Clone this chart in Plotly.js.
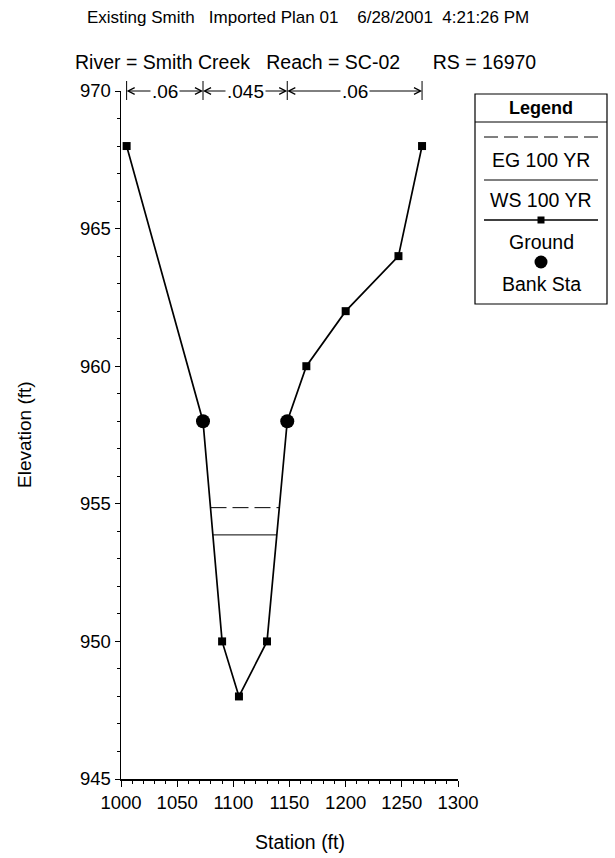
<!DOCTYPE html>
<html>
<head>
<meta charset="utf-8">
<script src="https://cdn.plot.ly/plotly-3.0.1.min.js"></script>
<style>html,body{margin:0;padding:0;background:#fff;}#chart{width:615px;height:858px;}</style>
</head>
<body>
<div id="chart"></div>
<script>
// ---- data ----
const station = [1005, 1073, 1090, 1105, 1130, 1148, 1165, 1200, 1247, 1268];
const elevation = [968, 958, 950, 948, 950, 958, 960, 962, 964, 968];
const bankStations = [1073, 1148];
const egElev = 954.86;   // EG 100 YR
const wsElev = 953.87;   // WS 100 YR
const nValues = ['.06', '.045', '.06'];
const yTicks = [945, 950, 955, 960, 965, 970];
const xTicks = [1000, 1050, 1100, 1150, 1200, 1250, 1300];
const titleLine1 = 'Existing Smith   Imported Plan 01    6/28/2001  4:21:26 PM';
const titleLine2 = 'River = Smith Creek   Reach = SC-02      RS = 16970';
const legendLabels = ['EG 100 YR', 'WS 100 YR', 'Ground', 'Bank Sta'];

// water-surface extent: where a level crosses the ground profile
function extent(level) {
  let xs = [];
  for (let i = 0; i < station.length - 1; i++) {
    const y0 = elevation[i], y1 = elevation[i + 1];
    if ((y0 - level) * (y1 - level) <= 0 && y0 !== y1) {
      xs.push(station[i] + (level - y0) / (y1 - y0) * (station[i + 1] - station[i]));
    }
  }
  return [Math.min(...xs), Math.max(...xs)];
}
const eg = extent(egElev), ws = extent(wsElev);
const bankElev = bankStations.map(s => elevation[station.indexOf(s)]);

// ---- layout geometry (pixels) ----
const W = 615, H = 858, L = 121, R = 458, T = 91, B = 779;
const px = p => (p - L) / (R - L);
const py = p => (B - p) / (B - T);
const FONT = 'Liberation Sans, Arial, sans-serif';

const traces = [
  {x: [eg[0], eg[1]], y: [egElev, egElev], mode: 'lines', line: {color: '#000', width: 1, dash: '16px,6px'}, hoverinfo: 'skip'},
  {x: [ws[0], ws[1]], y: [wsElev, wsElev], mode: 'lines', line: {color: '#000', width: 1}, hoverinfo: 'skip'},
  {x: station, y: elevation, mode: 'lines+markers', line: {color: '#000', width: 1.7},
   marker: {symbol: 'square', size: 8, color: '#000'}},
  {x: bankStations, y: bankElev, mode: 'markers', marker: {symbol: 'circle', size: 14, color: '#000'}}
];

const shapes = [];
const annotations = [];

// titles
annotations.push({xref: 'paper', yref: 'paper', x: px(308), y: py(18), text: titleLine1, showarrow: false,
  font: {family: FONT, size: 17, color: '#000'}, xanchor: 'center', yanchor: 'middle'});
annotations.push({xref: 'paper', yref: 'paper', x: px(305), y: py(62), text: titleLine2, showarrow: false,
  font: {family: FONT, size: 19.5, color: '#000'}, xanchor: 'center', yanchor: 'middle'});
annotations.push({xref: 'paper', yref: 'paper', x: px(24), y: py(435), text: 'Elevation (ft)', showarrow: false,
  textangle: -90, font: {family: FONT, size: 19, color: '#000'}, xanchor: 'center', yanchor: 'middle'});
annotations.push({xref: 'paper', yref: 'paper', x: px(300), y: py(842), text: 'Station (ft)', showarrow: false,
  font: {family: FONT, size: 19.5, color: '#000'}, xanchor: 'center', yanchor: 'middle'});

// n-value header
const bounds = [station[0], bankStations[0], bankStations[1], station[station.length - 1]];
const nY = 970;
bounds.forEach(b => {
  shapes.push({type: 'line', xref: 'x', yref: 'paper', x0: b, x1: b, y0: py(81), y1: py(100),
    line: {color: '#000', width: 1}});
});
for (let i = 0; i < 3; i++) {
  const a = bounds[i], b = bounds[i + 1], m = (a + b) / 2;
  [a, b].forEach(end => {
    annotations.push({xref: 'x', yref: 'y', axref: 'x', ayref: 'y', x: end, y: nY, ax: m, ay: nY,
      text: '', showarrow: true, arrowhead: 5, arrowsize: 1.3, arrowwidth: 1, arrowcolor: '#000', standoff: 0, startstandoff: 0});
  });
  annotations.push({xref: 'x', yref: 'y', x: m, y: nY, text: nValues[i], showarrow: false, bgcolor: '#fff',
    borderpad: 1, font: {family: FONT, size: 19, color: '#000'}, xanchor: 'center', yanchor: 'middle'});
}

// custom legend box
const lx0 = 475, lx1 = 607, lt = 94, lb = 304;
shapes.push({type: 'rect', xref: 'paper', yref: 'paper', x0: px(lx0), x1: px(lx1), y0: py(lt), y1: py(lb),
  line: {color: '#000', width: 1.2}, fillcolor: '#fff', layer: 'above'});
shapes.push({type: 'line', xref: 'paper', yref: 'paper', x0: px(lx0), x1: px(lx1), y0: py(122), y1: py(122),
  line: {color: '#000', width: 1}});
const cx = (lx0 + lx1) / 2;
annotations.push({xref: 'paper', yref: 'paper', x: px(cx), y: py(108), text: '<b>Legend</b>', showarrow: false,
  font: {family: FONT, size: 18, color: '#000'}, xanchor: 'center', yanchor: 'middle'});
shapes.push({type: 'line', xref: 'paper', yref: 'paper', x0: px(484), x1: px(598), y0: py(137), y1: py(137),
  line: {color: '#000', width: 1, dash: '14px,6px'}});
shapes.push({type: 'line', xref: 'paper', yref: 'paper', x0: px(484), x1: px(598), y0: py(180), y1: py(180),
  line: {color: '#000', width: 1}});
shapes.push({type: 'line', xref: 'paper', yref: 'paper', x0: px(484), x1: px(598), y0: py(220), y1: py(220),
  line: {color: '#000', width: 1.3}});
shapes.push({type: 'rect', xref: 'paper', yref: 'paper', x0: px(cx - 3.5), x1: px(cx + 3.5), y0: py(216.5), y1: py(223.5),
  line: {width: 0}, fillcolor: '#000'});
shapes.push({type: 'circle', xref: 'paper', yref: 'paper', x0: px(cx - 6.5), x1: px(cx + 6.5), y0: py(255.5), y1: py(268.5),
  line: {width: 0}, fillcolor: '#000'});
const legY = [160, 200, 242, 284];
legendLabels.forEach((t, i) => {
  annotations.push({xref: 'paper', yref: 'paper', x: px(cx), y: py(legY[i]), text: t, showarrow: false,
    font: {family: FONT, size: 19.5, color: '#000'}, xanchor: 'center', yanchor: 'middle'});
});

const layout = {
  width: W, height: H,
  margin: {l: L, r: W - R, t: T, b: H - B, pad: 0},
  paper_bgcolor: '#fff', plot_bgcolor: '#fff',
  showlegend: false,
  font: {family: FONT, size: 18, color: '#000'},
  xaxis: {range: [1000, 1300], tickvals: xTicks, ticktext: xTicks.map(String), showgrid: false, zeroline: false,
    showline: true, linecolor: '#000', linewidth: 1.5, ticks: 'outside', ticklen: 6, tickwidth: 1, tickcolor: '#000',
    minor: {dtick: 10, tick0: 1000, ticks: 'outside', ticklen: 3, tickwidth: 1, tickcolor: '#000'},
    tickfont: {family: FONT, size: 18.5, color: '#000'}, fixedrange: true},
  yaxis: {range: [945, 970], tickvals: yTicks, ticktext: yTicks.map(String), showgrid: false, zeroline: false,
    showline: true, linecolor: '#000', linewidth: 1.5, ticks: 'outside', ticklen: 5, tickwidth: 1, tickcolor: '#000',
    minor: {dtick: 1, tick0: 945, ticks: 'outside', ticklen: 3, tickwidth: 1, tickcolor: '#000'},
    tickfont: {family: FONT, size: 18.5, color: '#000'}, fixedrange: true},
  shapes: shapes,
  annotations: annotations
};

Plotly.newPlot('chart', traces, layout, {displayModeBar: false, staticPlot: true});
</script>
</body>
</html>
